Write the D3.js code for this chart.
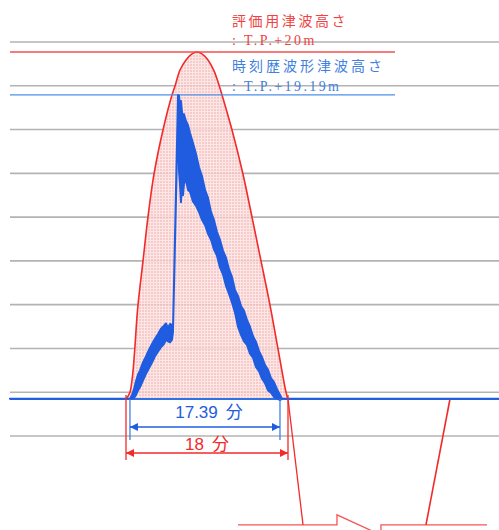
<!DOCTYPE html>
<html>
<head>
<meta charset="utf-8">
<script src="https://cdn.jsdelivr.net/npm/d3@7"></script>
<style>
  body { margin: 0; background: #fff; }
  svg { display: block; }
</style>
</head>
<body>
<svg id="chart" width="499" height="530"></svg>
<script>
// time in minutes, level in grid units (gridline every 1 unit)
const gridLevels = [0, 1, 2, 3, 4, 5, 6, 7, 8, 9];
const baseLevel = 0.845;
const evalLevel = 8.77;   // 評価用津波高さ T.P.+20m
const waveLevel = 7.79;   // 時刻歴波形津波高さ T.P.+19.19m

// red envelope (評価用)
const envTime = [0, 0.44, 1.33, 1.89, 2.44, 3.11, 4.11, 5.11, 5.44, 6.0, 6.67, 7.33, 7.89,
  8.44, 9.11, 9.78, 10.33, 10.67, 11.78, 13.0, 14.0, 15.0, 16.0, 16.89, 17.78, 18];
const envLevel = [0.845, 1.0, 2.99, 4.0, 5.0, 5.98, 6.99, 7.79, 7.99, 8.36, 8.59, 8.73, 8.77,
  8.73, 8.59, 8.34, 8.02, 7.79, 6.99, 5.98, 5.0, 4.0, 2.99, 1.99, 1.0, 0.845];

// blue time history (band of oscillation: upper / lower)
const waveTime = [-12.9, 0.44, 0.67, 0.89, 1.11, 1.33, 1.56, 1.89, 2.22, 2.56, 2.89, 3.22, 3.56,
  3.89, 4.22, 4.44, 4.67, 4.89, 5.11, 5.22,
  5.78, 5.89, 6.0, 6.11, 6.22, 6.33, 6.44, 6.67, 6.89, 7.11, 7.44, 7.78, 8.11, 8.44, 8.78,
  9.11, 9.44, 9.78, 10.11, 10.44, 10.78, 11.11, 11.44, 11.78, 12.11, 12.44, 12.78, 13.11,
  13.44, 13.78, 14.11, 14.44, 14.78, 15.11, 15.44, 15.78, 16.11, 16.44, 16.78, 17.11, 17.33, 41.5];
const waveUpper = [0.85, 0.85, 0.94, 1.07, 1.25, 1.40, 1.50, 1.68, 1.82, 1.97, 2.10, 2.22, 2.33,
  2.45, 2.52, 2.57, 2.47, 2.56, 2.54, 2.42,
  7.79, 7.77, 7.54, 7.65, 7.40, 7.29, 7.35, 7.19, 7.10, 6.92, 6.69, 6.44, 6.14, 5.94, 5.62,
  5.44, 5.12, 4.93, 4.66, 4.48, 4.23, 4.07, 3.81, 3.63, 3.33, 3.20, 2.97, 2.86,
  2.65, 2.49, 2.28, 2.15, 1.94, 1.80, 1.62, 1.51, 1.32, 1.23, 1.07, 0.94, 0.85, 0.85];
const waveLower = [0.85, 0.85, 0.85, 0.87, 0.94, 1.04, 1.12, 1.27, 1.42, 1.55, 1.68, 1.82, 1.93,
  2.03, 2.10, 2.20, 2.16, 2.14, 2.20, 2.38,
  7.45, 6.05, 5.75, 5.34, 5.85, 5.50, 5.76, 5.85, 5.62, 5.58, 5.36, 5.26, 5.12, 4.94, 4.82,
  4.62, 4.49, 4.26, 4.12, 3.85, 3.69, 3.43, 3.25, 3.05, 2.82, 2.50, 2.31, 2.16,
  2.08, 1.88, 1.79, 1.58, 1.48, 1.31, 1.21, 1.04, 0.99, 0.89, 0.86, 0.82, 0.85, 0.85];

// durations
const evalSpan = [0, 18];
const waveSpan = [0.44, 17.11];
const evalLabel = "18";
const waveLabel = "17.39";

// next wave schematic below the base
const fallLine = [[18, 0.845], [19.67, -2.03]];
const riseLine = [[33.33, -2.03], [36, 0.845]];
const breakLeft = [[12.44, -2.03], [23.44, -2.03], [23.44, -1.80], [28.2, -2.25]];
const breakRight = [[28.33, -2.25], [28.33, -2.03], [40.11, -2.03]];

const svg = d3.select("#chart");
const x = d3.scaleLinear().domain([0, 18]).range([126, 288]);
const y = d3.scaleLinear().domain([0, 9]).range([436, 42]);
const left = 10, right = 499, levelEnd = 395;

const red = "#f22a2a", blue = "#1f5ce0", textBlue = "#3f80dd";

const defs = svg.append("defs");
const pat = defs.append("pattern").attr("id", "pink")
  .attr("width", 3).attr("height", 3).attr("patternUnits", "userSpaceOnUse");
pat.append("rect").attr("width", 3).attr("height", 3).attr("fill", "#f7c2c2");
pat.append("rect").attr("width", 1).attr("height", 3).attr("fill", "#fce2e2");
pat.append("rect").attr("width", 3).attr("height", 1).attr("fill", "#fce2e2");

[["arrBlue", blue], ["arrRed", red]].forEach(([id, c]) => {
  defs.append("marker").attr("id", id).attr("viewBox", "0 0 10 10")
    .attr("refX", 10).attr("refY", 5).attr("markerWidth", 9).attr("markerHeight", 8)
    .attr("markerUnits", "userSpaceOnUse").attr("orient", "auto-start-reverse")
    .append("path").attr("d", "M0,0L10,5L0,10Z").attr("fill", c);
});

// gridlines
svg.append("g").selectAll("line").data(gridLevels).join("line")
  .attr("x1", left).attr("x2", right)
  .attr("y1", (d) => y(d)).attr("y2", (d) => y(d))
  .attr("stroke", "#b3b3b3").attr("stroke-width", 1.6);

const env = envTime.map((t, i) => [t, envLevel[i]]);
const envCurve = d3.curveCatmullRom.alpha(0.5);

svg.append("path").datum(env)
  .attr("d", d3.area().x((d) => x(d[0])).y0(y(baseLevel)).y1((d) => y(d[1])).curve(envCurve))
  .attr("fill", "url(#pink)").attr("opacity", 0.85);

svg.append("path").datum(env)
  .attr("d", d3.line().x((d) => x(d[0])).y((d) => y(d[1])).curve(envCurve))
  .attr("fill", "none").attr("stroke", red).attr("stroke-width", 1.6);

const seg = d3.line().x((d) => x(d[0])).y((d) => y(d[1]));
[fallLine, riseLine, breakLeft, breakRight].forEach((p, i) => {
  svg.append("path").datum(p).attr("d", seg)
    .attr("fill", "none").attr("stroke", red).attr("stroke-width", i === 1 ? 1.6 : 1.3)
    .attr("stroke-opacity", i > 1 ? 0.8 : 1);
});

// level lines
svg.append("line").attr("x1", left).attr("x2", levelEnd)
  .attr("y1", y(evalLevel)).attr("y2", y(evalLevel))
  .attr("stroke", "#f05050").attr("stroke-width", 1.6);
svg.append("line").attr("x1", left).attr("x2", levelEnd)
  .attr("y1", y(waveLevel)).attr("y2", y(waveLevel))
  .attr("stroke", "#4d8fe6").attr("stroke-width", 1.2);
svg.append("line").attr("x1", left).attr("x2", right)
  .attr("y1", y(baseLevel)).attr("y2", y(baseLevel))
  .attr("stroke", "#2f72e4").attr("stroke-width", 1.8);

// blue wave band
const wave = waveTime.map((t, i) => [t, waveUpper[i], waveLower[i]]);
svg.append("path").datum(wave)
  .attr("d", d3.area().x((d) => x(d[0])).y0((d) => y(d[2])).y1((d) => y(d[1])))
  .attr("fill", blue).attr("stroke", blue).attr("stroke-width", 2)
  .attr("stroke-linejoin", "round");

// duration markers
const tickBottom = { blue: -0.09, red: -0.55 };
waveSpan.forEach((t) => {
  svg.append("line").attr("x1", x(t)).attr("x2", x(t))
    .attr("y1", y(baseLevel)).attr("y2", y(tickBottom.blue))
    .attr("stroke", "#3f80e6").attr("stroke-width", 1.3);
});
evalSpan.forEach((t) => {
  svg.append("line").attr("x1", x(t)).attr("x2", x(t))
    .attr("y1", y(baseLevel) - 4).attr("y2", y(tickBottom.red))
    .attr("stroke", red).attr("stroke-width", 1.3);
});
svg.append("line").attr("x1", x(waveSpan[0])).attr("x2", x(waveSpan[1]))
  .attr("y1", 427).attr("y2", 427)
  .attr("stroke", blue).attr("stroke-width", 1.3)
  .attr("marker-start", "url(#arrBlue)").attr("marker-end", "url(#arrBlue)");
svg.append("line").attr("x1", x(evalSpan[0])).attr("x2", x(evalSpan[1]))
  .attr("y1", 453).attr("y2", 453)
  .attr("stroke", red).attr("stroke-width", 1.3)
  .attr("marker-start", "url(#arrRed)").attr("marker-end", "url(#arrRed)");

const durText = svg.append("text").attr("x", 209).attr("y", 418)
  .attr("text-anchor", "middle").attr("fill", blue)
  .style("font-family", "'Liberation Sans', Arial, 'Noto Sans CJK JP'").style("font-size", "17px");
durText.append("tspan").text(waveLabel);
durText.append("tspan").attr("dx", 8).text("分");

const evalText = svg.append("text").attr("x", 207).attr("y", 450)
  .attr("text-anchor", "middle").attr("fill", red)
  .style("font-family", "'Liberation Sans', Arial, 'Noto Sans CJK JP'").style("font-size", "17px");
evalText.append("tspan").text(evalLabel);
evalText.append("tspan").attr("dx", 8).text("分");

// level labels
const jp = "'Noto Sans CJK JP', sans-serif";
const tp = "'Liberation Serif', 'DejaVu Serif', serif";
svg.append("text").attr("x", 232).attr("y", 26).attr("fill", "#ef4343")
  .style("font-family", jp).style("font-size", "14px").style("letter-spacing", "2.6px")
  .text("評価用津波高さ");
svg.append("text").attr("x", 232).attr("y", 45).attr("fill", "#ef4343")
  .style("font-family", tp).style("font-size", "14px").style("letter-spacing", "2.4px")
  .text(": T.P.+20m");
svg.append("text").attr("x", 232).attr("y", 71).attr("fill", textBlue)
  .style("font-family", jp).style("font-size", "14px").style("letter-spacing", "3px")
  .text("時刻歴波形津波高さ");
svg.append("text").attr("x", 232).attr("y", 91).attr("fill", textBlue)
  .style("font-family", tp).style("font-size", "14px").style("letter-spacing", "2.4px")
  .text(": T.P.+19.19m");
</script>
</body>
</html>
